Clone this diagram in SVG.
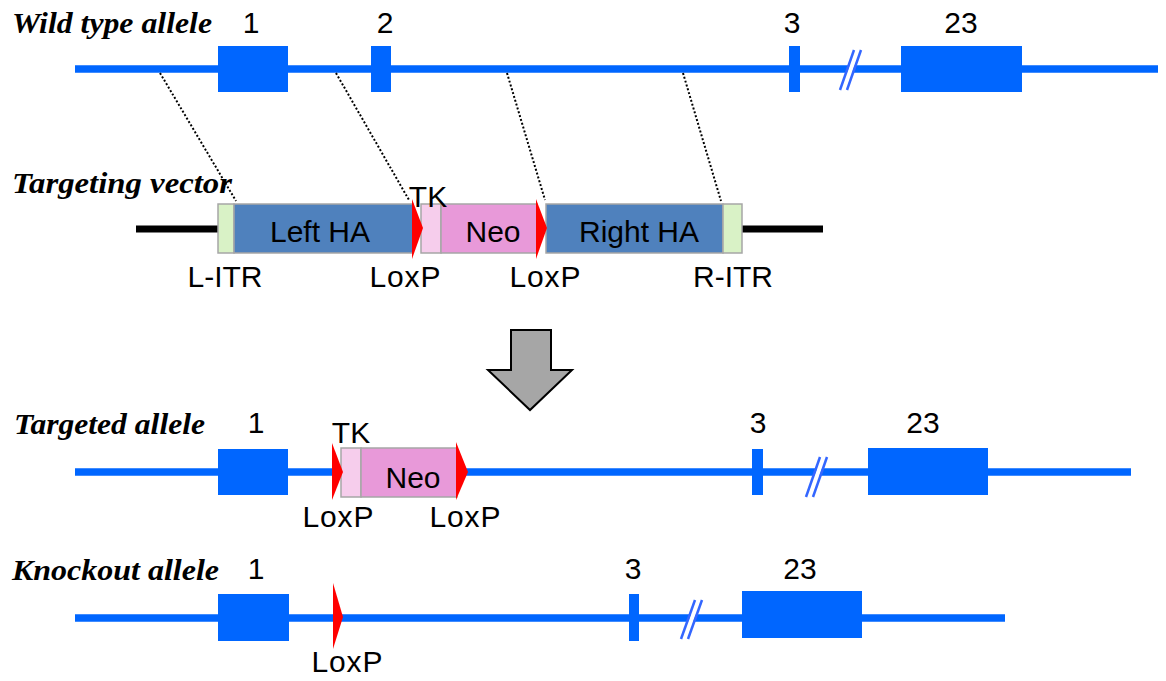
<svg xmlns="http://www.w3.org/2000/svg" width="1166" height="681" viewBox="0 0 1166 681">
<style>
.lbl{font-family:"Liberation Serif","Times New Roman",serif;font-style:italic;font-weight:bold;font-size:30px;fill:#000}
.t{font-family:"Liberation Sans",Arial,sans-serif;font-size:30px;fill:#000;text-anchor:middle}
.dna{stroke:#0066ff;stroke-width:7.5;fill:none}
.exon{fill:#0066ff}
.slash{stroke:#3366ff;stroke-width:2.5;fill:none}
.gap{fill:#fff}
.dot{stroke:#000;stroke-width:2;stroke-dasharray:2 2;fill:none}
.blk{stroke:#000;stroke-width:7;fill:none}
.box{stroke:#a6a6a6;stroke-width:1.5}
.ha{fill:#4f81bd}
.itr{fill:#d9f2c6}
.tk{fill:#f6cdec}
.neo{fill:#e899d9}
.lox{fill:#ff0000}
</style>

<g id="wild-type">
  <text class="lbl" x="12" y="33" textLength="200" lengthAdjust="spacingAndGlyphs">Wild type allele</text>
  <line class="dna" x1="75" y1="69" x2="1158" y2="69"/>
  <rect class="exon" x="218" y="46" width="70" height="46"/>
  <rect class="exon" x="371" y="46" width="20" height="46"/>
  <rect class="exon" x="789" y="46" width="11" height="46"/>
  <rect class="exon" x="901" y="46" width="121" height="46"/>
  <polygon class="gap" points="841,90 855,50 860,50 846,90"/>
  <line class="slash" x1="840" y1="90" x2="854" y2="50"/>
  <line class="slash" x1="847" y1="90" x2="861" y2="50"/>
  <text class="t" x="251" y="33">1</text>
  <text class="t" x="385" y="33">2</text>
  <text class="t" x="792" y="33">3</text>
  <text class="t" x="961" y="33">23</text>
</g>

<g id="connectors">
  <line class="dot" x1="160" y1="73" x2="236" y2="201"/>
  <line class="dot" x1="336" y1="73" x2="409" y2="200"/>
  <line class="dot" x1="507" y1="73" x2="545" y2="200"/>
  <line class="dot" x1="683" y1="73" x2="721" y2="201"/>
</g>

<g id="targeting-vector">
  <text class="lbl" x="12" y="193" textLength="220" lengthAdjust="spacingAndGlyphs">Targeting vector</text>
  <line class="blk" x1="136" y1="229" x2="218" y2="229"/>
  <line class="blk" x1="740" y1="229" x2="823" y2="229"/>
  <rect class="box itr" x="218" y="204" width="16" height="49"/>
  <rect class="box ha" x="234" y="204" width="179" height="49"/>
  <rect class="box tk" x="421" y="204" width="20" height="49"/>
  <rect class="box neo" x="441" y="204" width="96" height="49"/>
  <rect class="box ha" x="546" y="204" width="177" height="49"/>
  <rect class="box itr" x="723" y="204" width="19" height="49"/>
  <polygon class="lox" points="412,199 423,228 412,259"/>
  <polygon class="lox" points="536,199 547,228 536,259"/>
  <text class="t" x="320" y="242">Left HA</text>
  <text class="t" x="493" y="242">Neo</text>
  <text class="t" x="639" y="242">Right HA</text>
  <text class="t" x="428" y="207">TK</text>
  <text class="t" x="225" y="287">L-ITR</text>
  <text class="t" x="405" y="287" textLength="71">LoxP</text>
  <text class="t" x="545" y="287" textLength="71">LoxP</text>
  <text class="t" x="733" y="287">R-ITR</text>
</g>

<g id="arrow">
  <polygon points="511,330 551,330 551,370 572,370 530,410 488,370 511,370" fill="#a6a6a6" stroke="#000" stroke-width="2"/>
</g>

<g id="targeted-allele">
  <text class="lbl" x="14" y="434" textLength="191" lengthAdjust="spacingAndGlyphs">Targeted allele</text>
  <line class="dna" x1="75" y1="472" x2="1131" y2="472"/>
  <rect class="exon" x="218" y="449" width="70" height="46"/>
  <rect class="exon" x="752" y="449" width="11" height="46"/>
  <rect class="exon" x="868" y="448" width="120" height="47"/>
  <polygon class="gap" points="807,497 821,457 826,457 812,497"/>
  <line class="slash" x1="806" y1="497" x2="820" y2="457"/>
  <line class="slash" x1="813" y1="497" x2="827" y2="457"/>
  <rect class="box tk" x="341" y="448" width="20" height="49"/>
  <rect class="box neo" x="361" y="448" width="96" height="49"/>
  <polygon class="lox" points="332,443 343,472 332,500"/>
  <polygon class="lox" points="456,442 468,472 456,500"/>
  <text class="t" x="413" y="488">Neo</text>
  <text class="t" x="351" y="443">TK</text>
  <text class="t" x="256" y="433">1</text>
  <text class="t" x="758" y="433">3</text>
  <text class="t" x="923" y="433">23</text>
  <text class="t" x="338" y="527" textLength="71">LoxP</text>
  <text class="t" x="465" y="527" textLength="71">LoxP</text>
</g>

<g id="knockout-allele">
  <text class="lbl" x="12" y="580" textLength="207" lengthAdjust="spacingAndGlyphs">Knockout allele</text>
  <line class="dna" x1="75" y1="618" x2="1005" y2="618"/>
  <rect class="exon" x="218" y="594" width="71" height="47"/>
  <rect class="exon" x="629" y="594" width="10" height="47"/>
  <rect class="exon" x="742" y="591" width="120" height="47"/>
  <polygon class="gap" points="682,639 696,600 701,600 687,639"/>
  <line class="slash" x1="681" y1="639" x2="695" y2="600"/>
  <line class="slash" x1="688" y1="639" x2="702" y2="600"/>
  <polygon class="lox" points="333,583 343,617 333,649"/>
  <text class="t" x="256" y="579">1</text>
  <text class="t" x="633" y="579">3</text>
  <text class="t" x="800" y="579">23</text>
  <text class="t" x="347" y="672" textLength="71">LoxP</text>
</g>
</svg>
